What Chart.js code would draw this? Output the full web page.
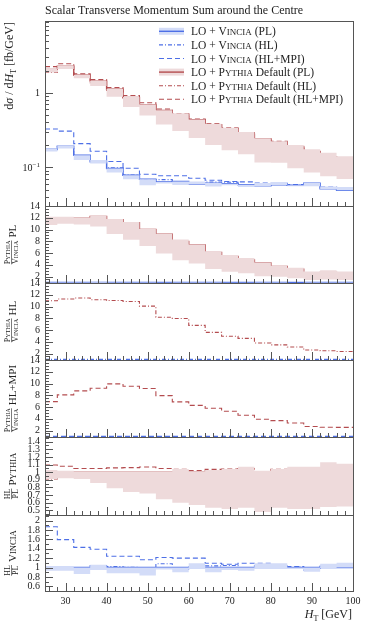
<!DOCTYPE html>
<html>
<head>
<meta charset="utf-8">
<script src="https://cdn.jsdelivr.net/npm/chart.js@4.4.0/dist/chart.umd.min.js"></script>
<style>
  html, body { margin: 0; padding: 0; background: #fff; }
  #wrap { position: relative; width: 365px; height: 623px; }
  #wrap canvas { position: absolute; left: 0; top: 0; }
</style>
</head>
<body>
<div id="wrap"></div>
<script>
// bin edges of H_T [GeV]
const edges = [25, 28, 32, 36, 40, 44, 48, 52, 56, 60, 64, 68, 72, 76, 80, 84, 88, 92, 96, 100];

// LO + Vincia: parton level [fb/GeV], its band (relative), and HL/PL ratios
const vinciaPL  = [0.175, 0.192, 0.145, 0.118, 0.096, 0.078, 0.069, 0.063, 0.064, 0.059, 0.061, 0.060, 0.058, 0.056, 0.058, 0.057, 0.061, 0.051, 0.049];
const vinciaLo  = [0.93, 0.93, 0.86, 0.95, 0.88, 0.88, 0.83, 0.96, 0.90, 0.99, 0.90, 0.95, 0.93, 0.99, 0.99, 0.97, 0.91, 0.99, 1.00];
const vinciaHi  = [1.02, 1.02, 1.00, 1.06, 1.00, 1.00, 1.00, 1.00, 1.00, 1.09, 1.00, 1.00, 1.00, 1.09, 1.09, 1.00, 1.00, 1.08, 1.10];
const vinciaHL  = [0.983, 0.983, 0.983, 1.04, 1.02, 1.003, 0.978, 1.08, 0.957, 1.01, 1.036, 1.043, 0.983, 1.036, 1.028, 1.003, 0.95, 1.03, 1.043];
const vinciaMPI = [1.87, 1.595, 1.43, 1.39, 1.24, 1.24, 1.165, 1.215, 1.20, 1.20, 1.093, 1.07, 1.093, 1.093, 1.043, 1.02, 0.99, 1.057, 1.07];

// LO + Pythia default
const pythiaPL  = [2.07, 2.29, 1.73, 1.44, 1.12, 0.87, 0.69, 0.58, 0.51, 0.435, 0.373, 0.326, 0.279, 0.241, 0.215, 0.186, 0.163, 0.138, 0.126];
const pythiaLo  = [0.91, 0.92, 0.91, 0.86, 0.79, 0.74, 0.72, 0.645, 0.60, 0.57, 0.535, 0.52, 0.535, 0.48, 0.535, 0.52, 0.52, 0.545, 0.55];
const pythiaHi  = [1.03, 1.02, 1.01, 1.01, 1.01, 1.01, 1.01, 1.01, 1.04, 1.01, 1.03, 1.04, 1.07, 1.02, 1.04, 1.07, 1.07, 1.13, 1.11];
const pythiaHL  = [0.913, 0.93, 0.944, 0.95, 0.963, 0.977, 0.984, 0.958, 0.957, 0.93, 0.95, 0.948, 0.937, 0.91, 0.962, 0.96, 0.927, 0.94, 0.948];
const pythiaMPI = [1.093, 1.078, 1.048, 1.048, 1.056, 1.059, 1.067, 1.048, 1.036, 1.022, 1.036, 1.04, 1.048, 0.998, 1.036, 1.026, 0.997, 0.997, 1.058];

// tick labels
const xMajor = [30, 40, 50, 60, 70, 80, 90, 100];
const mainMajor = [0.1, 1];
const ratioMajor = [2, 4, 6, 8, 10, 12, 14];
const pyMajor = [0.5, 0.6, 0.7, 0.8, 0.9, 1, 1.1, 1.2, 1.3, 1.4];
const viMajor = [0.6, 0.8, 1, 1.2, 1.4, 1.6, 1.8, 2];

const W = 365, H = 623, L = 45, R = 353;
const BLUE = '#4d6fe6', RED = '#b44c4f', BLUE_BAND = '#d3dcf8', RED_BAND = '#eedadb';
const AXIS = '#555', TEXT = '#222';
const SOLID = [], DASHDOT = [4, 2, 1, 2], DASHED = [5, 3];
const SERIF = '"Liberation Serif", "DejaVu Serif", serif';

const ones = vinciaPL.map(() => 1);
const mul = (a, b) => a.map((v, i) => v * b[i]);
const div = (a, b) => a.map((v, i) => v / b[i]);

function steps(vals) {
  return edges.map((e, i) => ({x: e, y: vals[Math.min(i, vals.length - 1)]}));
}
function line(vals, color, dash, w) {
  return {data: steps(vals), borderColor: color, borderDash: dash, borderWidth: w || 1.1,
          stepped: true, pointRadius: 0, fill: false};
}
function band(lo, hi, color) {
  return [
    {data: steps(lo), borderColor: 'rgba(0,0,0,0)', borderWidth: 1, stepped: true, pointRadius: 0, fill: false},
    {data: steps(hi), borderColor: 'rgba(0,0,0,0)', borderWidth: 1, stepped: true, pointRadius: 0, fill: '-1', backgroundColor: color}
  ];
}
function minors(from, to, step, major) {
  const out = [];
  for (let v = from; v <= to + 1e-9; v += step) {
    const r = Math.round(v * 1000) / 1000;
    if (!major.some(m => Math.abs(m - r) < 1e-6)) out.push(r);
  }
  return out;
}
const logMinor = [];
[0.01, 0.1, 1].forEach(d => { for (let k = 2; k <= 9; k++) logMinor.push(d * k); });

// text helpers
function fnt(s, it) { return (it ? 'italic ' : '') + s + 'px ' + SERIF; }
function t(text, s, it, dy) { return {t: text, s: s, i: it, dy: dy || 0}; }
function sc(word, s) { return [t(word[0], s), t(word.slice(1).toUpperCase(), s * 0.78)]; }
function widthOf(ctx, parts) {
  let w = 0;
  parts.forEach(q => { ctx.font = fnt(q.s, q.i); w += ctx.measureText(q.t).width; });
  return w;
}
function drawParts(ctx, parts, x, y) {
  parts.forEach(q => { ctx.font = fnt(q.s, q.i); ctx.fillText(q.t, x, y + q.dy); x += ctx.measureText(q.t).width; });
}
function ratioLabel(ctx, lab, cx, cy) {
  ctx.save();
  ctx.translate(cx, cy);
  ctx.rotate(-Math.PI / 2);
  const wn = widthOf(ctx, lab.num), wd = widthOf(ctx, lab.den), wm = widthOf(ctx, lab.main);
  const wf = Math.max(wn, wd), gap = 3, x0 = -(wf + gap + wm) / 2;
  drawParts(ctx, lab.num, x0 + (wf - wn) / 2, -1.6);
  drawParts(ctx, lab.den, x0 + (wf - wd) / 2, 5.6);
  ctx.fillRect(x0, -0.9, wf, 0.6);
  drawParts(ctx, lab.main, x0 + wf + gap, 4);
  ctx.restore();
}

const FR = 8;
const pyVi = main => ({num: sc('Pythia', FR), den: sc('Vincia', FR), main: [t(main, 11)]});

const panels = [
  {top: 21, bottom: 206, log: true, min: 0.03, max: 9.3, major: mainMajor, minor: logMinor,
   datasets: [
     ...band(mul(vinciaPL, vinciaLo), mul(vinciaPL, vinciaHi), BLUE_BAND),
     ...band(mul(pythiaPL, pythiaLo), mul(pythiaPL, pythiaHi), RED_BAND),
     line(vinciaPL, BLUE, SOLID, 1.4),
     line(mul(vinciaPL, vinciaHL), BLUE, DASHDOT),
     line(mul(vinciaPL, vinciaMPI), BLUE, DASHED),
     line(pythiaPL, RED, SOLID, 1.4),
     line(mul(pythiaPL, pythiaHL), RED, DASHDOT),
     line(mul(pythiaPL, pythiaMPI), RED, DASHED)
   ]},
  {top: 206, bottom: 283, min: 0.9, max: 14, major: ratioMajor, minor: minors(1, 14, 0.5, ratioMajor), label: pyVi('PL'),
   datasets: [
     ...band(div(mul(pythiaPL, pythiaLo), vinciaPL), div(mul(pythiaPL, pythiaHi), vinciaPL), RED_BAND),
     ...band(vinciaLo, vinciaHi, BLUE_BAND),
     line(ones, BLUE, SOLID, 1.4),
     line(div(pythiaPL, vinciaPL), RED, SOLID, 1.4)
   ]},
  {top: 283, bottom: 360, min: 0.9, max: 14, major: ratioMajor, minor: minors(1, 14, 0.5, ratioMajor), label: pyVi('HL'),
   datasets: [
     line(ones, BLUE, DASHDOT),
     line(div(mul(pythiaPL, pythiaHL), mul(vinciaPL, vinciaHL)), RED, DASHDOT)
   ]},
  {top: 360, bottom: 437, min: 0.9, max: 14, major: ratioMajor, minor: minors(1, 14, 0.5, ratioMajor), label: pyVi('HL+MPI'),
   datasets: [
     line(ones, BLUE, DASHED),
     line(div(mul(pythiaPL, pythiaMPI), mul(vinciaPL, vinciaMPI)), RED, DASHED)
   ]},
  {top: 437, bottom: 515, min: 0.44, max: 1.46, major: pyMajor, minor: minors(0.45, 1.45, 0.05, pyMajor),
   label: {num: [t('HL', FR)], den: [t('PL', FR)], main: sc('Pythia', 11)},
   datasets: [
     ...band(pythiaLo, pythiaHi, RED_BAND),
     line(ones, RED, SOLID, 1.4),
     line(pythiaMPI, RED, DASHED),
     line(pythiaHL, RED, DASHDOT)
   ]},
  {top: 515, bottom: 591, min: 0.5, max: 2.12, major: viMajor, minor: minors(0.5, 2.1, 0.1, viMajor),
   label: {num: [t('HL', FR)], den: [t('PL', FR)], main: sc('Vincia', 11)},
   datasets: [
     ...band(vinciaLo, vinciaHi, BLUE_BAND),
     line(ones, BLUE, SOLID, 1.4),
     line(vinciaMPI, BLUE, DASHED),
     line(vinciaHL, BLUE, DASHDOT)
   ]}
];

const legendRows = [
  {parts: [t('LO + ', 11.5), ...sc('Vincia', 11.5), t(' (PL)', 11.5)], color: BLUE, dash: SOLID, band: BLUE_BAND},
  {parts: [t('LO + ', 11.5), ...sc('Vincia', 11.5), t(' (HL)', 11.5)], color: BLUE, dash: DASHDOT},
  {parts: [t('LO + ', 11.5), ...sc('Vincia', 11.5), t(' (HL+MPI)', 11.5)], color: BLUE, dash: DASHED},
  {parts: [t('LO + ', 11.5), ...sc('Pythia', 11.5), t(' Default (PL)', 11.5)], color: RED, dash: SOLID, band: RED_BAND},
  {parts: [t('LO + ', 11.5), ...sc('Pythia', 11.5), t(' Default (HL)', 11.5)], color: RED, dash: DASHDOT},
  {parts: [t('LO + ', 11.5), ...sc('Pythia', 11.5), t(' Default (HL+MPI)', 11.5)], color: RED, dash: DASHED}
];

function seg(ctx, x1, y1, x2, y2) { ctx.beginPath(); ctx.moveTo(x1, y1); ctx.lineTo(x2, y2); ctx.stroke(); }

const framePlugin = {
  id: 'frame',
  afterDraw(chart, args, opts) {
    const p = panels[opts.idx];
    const {ctx, chartArea: a} = chart;
    const xs = chart.scales.x, ys = chart.scales.y;
    ctx.save();
    ctx.strokeStyle = AXIS;
    ctx.lineWidth = 1;
    ctx.setLineDash([]);
    for (let v = 26; v < 100; v += 2) {
      const px = Math.round(xs.getPixelForValue(v)) + 0.5;
      seg(ctx, px, a.bottom, px, a.bottom - (v % 10 ? 4 : 8));
    }
    p.major.forEach(v => {
      if (v < p.min || v > p.max) return;
      const py = Math.round(ys.getPixelForValue(v)) + 0.5;
      seg(ctx, a.left, py, a.left + 8, py);
    });
    p.minor.forEach(v => {
      if (v < p.min || v > p.max) return;
      const py = Math.round(ys.getPixelForValue(v)) + 0.5;
      seg(ctx, a.left, py, a.left + 4, py);
    });
    ctx.strokeRect(a.left + 0.5, a.top + 0.5, a.right - a.left, a.bottom - a.top);

    ctx.fillStyle = TEXT;
    ctx.textBaseline = 'alphabetic';
    if (p.label) ratioLabel(ctx, p.label, 12, (p.top + p.bottom) / 2);

    if (opts.idx === 0) {
      // title
      drawParts(ctx, [t('Scalar Transverse Momentum Sum around the Centre', 12)], L, 14);
      // y title
      ctx.save();
      ctx.translate(9, 22);
      ctx.rotate(-Math.PI / 2);
      const yl = [t('d', 12), t('σ', 12, true), t(' / d', 12), t('H', 12, true), t('T', 8, false, 2.5), t(' [fb/GeV]', 12)];
      drawParts(ctx, yl, -widthOf(ctx, yl), 4);
      ctx.restore();
      // log tick labels
      const y1 = ys.getPixelForValue(1), y01 = ys.getPixelForValue(0.1);
      const one = [t('1', 10)];
      drawParts(ctx, one, 40 - widthOf(ctx, one), y1 + 3.5);
      const tenth = [t('10', 10), t('−1', 7, false, -4)];
      drawParts(ctx, tenth, 40 - widthOf(ctx, tenth), y01 + 3.5);
      // legend
      legendRows.forEach((r, i) => {
        const yy = 31.3 + 13.6 * i;
        if (r.band) { ctx.fillStyle = r.band; ctx.fillRect(159, yy - 3.5, 25, 7); }
        ctx.strokeStyle = r.color;
        ctx.lineWidth = r.band ? 1.4 : 1.1;
        ctx.setLineDash(r.dash);
        seg(ctx, 159, yy, 184, yy);
        ctx.setLineDash([]);
        ctx.fillStyle = TEXT;
        drawParts(ctx, r.parts, 191, yy + 4);
      });
    }
    if (opts.idx === panels.length - 1) {
      const xl = [t('H', 12, true), t('T', 8, false, 2.5), t(' [GeV]', 12)];
      drawParts(ctx, xl, 352 - widthOf(ctx, xl), 618);
    }
    ctx.restore();
  }
};

const wrap = document.getElementById('wrap');
const tickFont = {family: SERIF, size: 10};

panels.forEach((p, k) => {
  const c = document.createElement('canvas');
  c.width = W;
  c.height = H;
  wrap.appendChild(c);
  const last = k === panels.length - 1;
  new Chart(c, {
    type: 'line',
    data: {datasets: p.datasets},
    options: {
      responsive: false,
      animation: false,
      devicePixelRatio: 1,
      events: [],
      layout: {padding: {top: p.top, bottom: H - p.bottom - (last ? 20 : 0), left: 0, right: W - R}},
      plugins: {legend: {display: false}, tooltip: {enabled: false}, frame: {idx: k}},
      scales: {
        x: {
          type: 'linear', min: 25, max: 100, display: last,
          grid: {display: false, drawTicks: false}, border: {display: false},
          afterFit: s => { s.height = last ? 20 : 0; },
          afterBuildTicks: s => { s.ticks = xMajor.map(v => ({value: v})); },
          ticks: {autoSkip: false, maxRotation: 0, padding: 4, font: tickFont, color: TEXT}
        },
        y: {
          type: p.log ? 'logarithmic' : 'linear', min: p.min, max: p.max,
          grid: {display: false, drawTicks: false}, border: {display: false},
          afterFit: s => { s.width = L; },
          afterBuildTicks: s => { s.ticks = p.major.map(v => ({value: v})); },
          ticks: {display: !p.log, autoSkip: false, padding: 5, font: tickFont, color: TEXT,
                  callback: v => String(+Number(v).toFixed(2))}
        }
      }
    },
    plugins: [framePlugin]
  });
});
</script>
</body>
</html>
